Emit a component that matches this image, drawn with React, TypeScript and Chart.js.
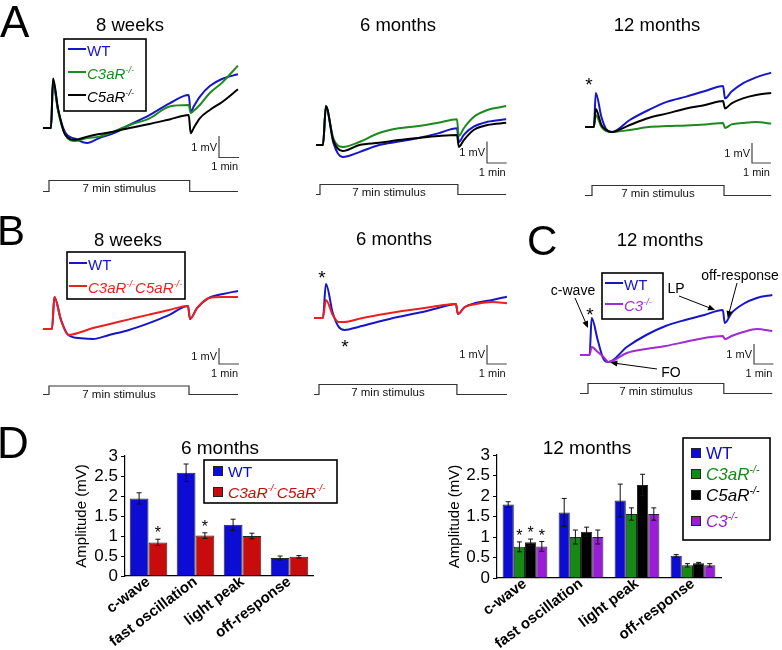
import React, { useEffect, useRef } from 'react';
import { Chart, registerables } from 'chart.js';

Chart.register(...registerables);

const FONT = '"Liberation Sans", Arial, Helvetica, sans-serif';
Chart.defaults.font.family = FONT;

const W = 782;
const H = 650;

// ---------------- DATA ----------------
const STIM_ON = 0; // min
const STIM_OFF = 7; // min

// Panel A – 8 weeks (mV vs min)
const tA8w = [-0.3, 0.1, 0.2, 0.45, 0.8, 1.3, 1.9, 2.5, 3.2, 4.0, 5.0, 6.0, 6.95, 7.05, 7.2, 7.5, 8.0, 8.6, 9.4];
const wtA8w = [0, 0, 2.1, 0.85, -0.2, -0.5, -0.7, -0.47, -0.25, 0.14, 0.6, 1.15, 1.53, 0.75, 1.0, 1.45, 1.95, 2.28, 2.5];
const c3arA8w = [0, 0, 2.25, 0.8, -0.3, -0.6, -0.47, -0.4, -0.17, 0.14, 0.45, 1.0, 1.07, 0.7, 0.8, 1.07, 1.63, 2.1, 2.9];
const c5arA8w = [0, 0, 2.3, 0.9, -0.3, -0.55, -0.4, -0.28, -0.17, 0.0, 0.19, 0.4, 0.6, -0.24, 0.0, 0.45, 0.84, 1.2, 1.8];

// Panel A – 6 months
const tA6m = [-0.2, 0.15, 0.3, 0.68, 1.15, 2.0, 3.0, 4.0, 5.0, 6.0, 6.95, 7.05, 7.3, 7.8, 8.5, 9.45];
const wtA6m = [0, 0, 1.81, 0.1, -0.56, -0.33, 0.0, 0.16, 0.33, 0.54, 0.78, 0.14, 0.47, 0.85, 1.08, 1.2];
const c3arA6m = [0, 0, 1.75, 0.3, -0.09, 0.14, 0.56, 0.78, 0.88, 1.03, 1.2, 0.42, 0.78, 1.3, 1.63, 1.81];
const c5arA6m = [0, 0, 1.8, 0.2, -0.28, 0.0, 0.1, 0.23, 0.33, 0.42, 0.47, -0.09, 0.23, 0.7, 0.93, 1.03];

// Panel A – 12 months
const tA12m = [-0.37, 0.1, 0.2, 0.5, 0.75, 1.05, 2.0, 3.0, 4.0, 5.0, 6.0, 6.95, 7.05, 7.4, 8.0, 8.7, 9.5];
const wtA12m = [0, 0, 1.7, 0.5, -0.1, -0.25, 0.35, 0.85, 1.27, 1.52, 1.8, 2.05, 1.43, 1.77, 2.18, 2.48, 2.72];
const c3arA12m = [0, 0, 0.6, 0.0, -0.2, -0.25, -0.15, 0.0, 0.05, 0.08, 0.13, 0.2, -0.05, 0.13, 0.2, 0.25, 0.17];
const c5arA12m = [0, 0, 0.9, 0.1, -0.15, -0.25, 0.1, 0.45, 0.68, 0.93, 1.1, 1.3, 0.93, 1.18, 1.43, 1.6, 1.7];
const starsA12m = [{ t: -0.16, v: 2.35 }];

// Panel B – 8 weeks
const tB8w = [-0.3, 0.15, 0.27, 0.6, 0.97, 1.6, 2.2, 3.0, 4.0, 5.0, 6.0, 6.95, 7.05, 7.4, 8.0, 8.7, 9.45];
const wtB8w = [0, 0, 2.0, 0.56, -0.375, -0.58, -0.63, -0.375, -0.06, 0.37, 0.87, 1.44, 0.62, 1.3, 1.94, 2.19, 2.38];
const dkoB8w = [0, 0, 2.0, 0.56, -0.375, -0.19, 0.06, 0.3, 0.6, 0.9, 1.19, 1.44, 0.62, 1.3, 1.94, 2.0, 2.0];

// Panel B – 6 months
const tB6m = [-0.25, 0.2, 0.35, 0.7, 1.0, 1.3, 2.0, 3.0, 4.0, 5.0, 6.0, 6.95, 7.05, 7.4, 8.0, 8.8, 9.54];
const wtB6m = [0, 0, 1.79, 0.26, -0.47, -0.63, -0.47, -0.2, 0.05, 0.26, 0.51, 0.74, 0.21, 0.58, 0.8, 0.95, 1.12];
const dkoB6m = [0, 0, 0.95, 0.16, -0.21, -0.21, -0.05, 0.16, 0.33, 0.47, 0.63, 0.74, 0.21, 0.58, 0.74, 0.84, 0.77];
const starsB6m = [{ t: 0.15, v: 2.37 }, { t: 1.32, v: -1.26 }];

// Panel C – 12 months
const tC12m = [-0.41, 0.08, 0.19, 0.5, 0.8, 1.05, 2.0, 3.0, 4.0, 5.0, 6.0, 6.95, 7.05, 7.4, 8.0, 8.7, 9.5];
const wtC12m = [0, 0, 1.85, 0.75, -0.2, -0.35, 0.4, 1.0, 1.45, 1.75, 2.0, 2.25, 1.6, 2.1, 2.55, 2.85, 3.0];
const c3C12m = [0, 0, 0.4, 0.15, -0.1, -0.35, 0.1, 0.3, 0.45, 0.65, 0.85, 0.95, 0.8, 0.95, 1.15, 1.3, 1.2];
const starsC12m = [{ t: 0.1, v: 2.25 }];
const notesC12m = [
  { text: 'c-wave', tip: { t: 0.0, v: 1.35 } },
  { text: 'LP', tip: { t: 6.55, v: 2.25 } },
  { text: 'off-response', tip: { t: 7.2, v: 1.85 } },
  { text: 'FO', tip: { t: 1.15, v: -0.38 } },
];

// Panel D – bar charts (Amplitude, mV)
const barCategories = ['c-wave', 'fast oscillation', 'light peak', 'off-response'];
const yTicksMax = 3;
const yTickStep = 0.5;

const wt6m = [1.94, 2.58, 1.28, 0.45];
const wt6mErr = [0.14, 0.22, 0.14, 0.05];
const wt6mSig = [false, false, false, false];
const dko6m = [0.84, 1.01, 1.0, 0.48];
const dko6mErr = [0.08, 0.07, 0.07, 0.03];
const dko6mSig = [true, true, false, false];

const wt12m = [1.79, 1.6, 1.89, 0.54];
const wt12mErr = [0.07, 0.34, 0.4, 0.03];
const wt12mSig = [false, false, false, false];
const c3ar12m = [0.76, 1.0, 1.56, 0.31];
const c3ar12mErr = [0.12, 0.17, 0.15, 0.04];
const c3ar12mSig = [true, false, false, false];
const c5ar12m = [0.87, 1.13, 2.27, 0.36];
const c5ar12mErr = [0.08, 0.11, 0.26, 0.02];
const c5ar12mSig = [true, false, false, false];
const c3ko12m = [0.77, 1.0, 1.56, 0.31];
const c3ko12mErr = [0.12, 0.17, 0.15, 0.04];
const c3ko12mSig = [true, false, false, false];

// ---------------- STYLE ----------------
const BLUE = '#1616c6';
const GREEN = '#1d8a1d';
const BLACK = '#000000';
const RED = '#ec1f1f';
const PURPLE = '#a02cd2';
const BAR_BLUE = '#0c0cd2';
const BAR_RED = '#c80c0c';
const BAR_GREEN = '#148a14';
const BAR_BLACK = '#000000';
const BAR_PURPLE = '#981ed6';

// ---------------- HELPERS ----------------
function fontStr(size: number, italic = false, bold = false) {
  return `${italic ? 'italic ' : ''}${bold ? 'bold ' : ''}${size}px ${FONT}`;
}
function drawText(ctx: CanvasRenderingContext2D, s: string, x: number, cy: number, size: number, color = '#000', align: CanvasTextAlign = 'center') {
  ctx.font = fontStr(size);
  ctx.fillStyle = color;
  ctx.textAlign = align;
  ctx.textBaseline = 'alphabetic';
  ctx.fillText(s, x, cy + size * 0.36);
}
function drawRuns(ctx: CanvasRenderingContext2D, label: string, x: number, cy: number, size: number, color: string, italic: boolean) {
  const base = cy + size * 0.36;
  let cx = x;
  ctx.textAlign = 'left';
  ctx.textBaseline = 'alphabetic';
  ctx.fillStyle = color;
  for (const part of label.split(/(-\/-)/)) {
    if (!part) continue;
    const sup = part === '-/-';
    const fs = sup ? size * 0.62 : size;
    ctx.font = fontStr(fs, italic);
    ctx.fillText(part, cx, sup ? base - size * 0.42 : base);
    cx += ctx.measureText(part).width;
  }
}
function drawStar(ctx: CanvasRenderingContext2D, x: number, cy: number, size: number) {
  ctx.font = fontStr(size);
  ctx.fillStyle = '#000';
  ctx.textAlign = 'center';
  ctx.textBaseline = 'alphabetic';
  ctx.fillText('*', x, cy + size * 0.58);
}
function drawLetter(ctx: CanvasRenderingContext2D, L: { s: string; x: number; y: number; size: number }) {
  ctx.font = fontStr(L.size);
  ctx.fillStyle = '#000';
  ctx.textAlign = 'left';
  ctx.textBaseline = 'alphabetic';
  ctx.fillText(L.s, L.x, L.y);
}
function drawArrow(ctx: CanvasRenderingContext2D, x1: number, y1: number, x2: number, y2: number) {
  const a = Math.atan2(y2 - y1, x2 - x1);
  const hl = 7, hw = 3;
  const c = Math.cos(a), s = Math.sin(a);
  ctx.strokeStyle = '#000';
  ctx.fillStyle = '#000';
  ctx.lineWidth = 1;
  ctx.beginPath();
  ctx.moveTo(x1, y1);
  ctx.lineTo(x2 - c * hl * 0.7, y2 - s * hl * 0.7);
  ctx.stroke();
  ctx.beginPath();
  ctx.moveTo(x2, y2);
  ctx.lineTo(x2 - hl * c + hw * s, y2 - hl * s - hw * c);
  ctx.lineTo(x2 - hl * c - hw * s, y2 - hl * s + hw * c);
  ctx.closePath();
  ctx.fill();
}

interface LegendCfg { x1: number; y1: number; x2: number; y2: number; rows: number[]; sampleX: number; sampleW: number; textX: number; size: number; kind: 'line' | 'square' }
function drawLegend(ctx: CanvasRenderingContext2D, L: LegendCfg, entries: { label: string; color: string }[]) {
  ctx.fillStyle = '#fff';
  ctx.fillRect(L.x1, L.y1, L.x2 - L.x1, L.y2 - L.y1);
  ctx.strokeStyle = '#000';
  ctx.lineWidth = 1.6;
  ctx.strokeRect(L.x1, L.y1, L.x2 - L.x1, L.y2 - L.y1);
  entries.forEach((e, i) => {
    const y = L.rows[i];
    if (L.kind === 'line') {
      ctx.strokeStyle = e.color;
      ctx.lineWidth = 2;
      ctx.beginPath();
      ctx.moveTo(L.sampleX, y - 2);
      ctx.lineTo(L.sampleX + L.sampleW, y - 2);
      ctx.stroke();
    } else {
      ctx.fillStyle = e.color;
      ctx.fillRect(L.sampleX, y - L.sampleW / 2, L.sampleW, L.sampleW);
      ctx.strokeStyle = '#222';
      ctx.lineWidth = 1;
      ctx.strokeRect(L.sampleX + 0.5, y - L.sampleW / 2 + 0.5, L.sampleW - 1, L.sampleW - 1);
    }
    drawRuns(ctx, e.label, L.textX, y, L.size, e.color, e.label !== 'WT');
  });
}

// ---------------- TRACE PANELS ----------------
interface Trace { label: string; t: number[]; v: number[]; color: string; z: number }
interface TraceCfg {
  traces: Trace[];
  px0: number; pxPerMin: number; py0: number; pxPerMV: number;
  title: string; titleX: number; titleY: number;
  stimHi: number; stimLo: number;
  barX: number; barY: number;
  letter?: { s: string; x: number; y: number; size: number };
  legend?: LegendCfg;
  stars?: { t: number; v: number }[];
  notes?: { text: string; tip: { t: number; v: number } }[];
  notePos?: { x: number; y: number; tail: [number, number] }[];
}

const TITLE_SIZE = 18.5;

const traceCfgs: TraceCfg[] = [
  {
    traces: [
      { label: 'WT', t: tA8w, v: wtA8w, color: BLUE, z: 3 },
      { label: 'C3aR-/-', t: tA8w, v: c3arA8w, color: GREEN, z: 2 },
      { label: 'C5aR-/-', t: tA8w, v: c5arA8w, color: BLACK, z: 1 },
    ],
    px0: 49, pxPerMin: 20.1, py0: 128, pxPerMV: 21.5,
    title: '8 weeks', titleX: 130, titleY: 24,
    stimHi: 180.5, stimLo: 191.5, barX: 219, barY: 157.5,
    letter: { s: 'A', x: 0, y: 37, size: 44 },
    legend: { x1: 64, y1: 39, x2: 146, y2: 111, rows: [51, 74, 97], sampleX: 68, sampleW: 18, textX: 87, size: 15, kind: 'line' },
  },
  {
    traces: [
      { label: 'WT', t: tA6m, v: wtA6m, color: BLUE, z: 3 },
      { label: 'C3aR-/-', t: tA6m, v: c3arA6m, color: GREEN, z: 2 },
      { label: 'C5aR-/-', t: tA6m, v: c5arA6m, color: BLACK, z: 1 },
    ],
    px0: 320, pxPerMin: 19.7, py0: 145, pxPerMV: 21.5,
    title: '6 months', titleX: 398, titleY: 24,
    stimHi: 184.5, stimLo: 194.5, barX: 487, barY: 163,
  },
  {
    traces: [
      { label: 'WT', t: tA12m, v: wtA12m, color: BLUE, z: 3 },
      { label: 'C3aR-/-', t: tA12m, v: c3arA12m, color: GREEN, z: 2 },
      { label: 'C5aR-/-', t: tA12m, v: c5arA12m, color: BLACK, z: 1 },
    ],
    px0: 592, pxPerMin: 18.86, py0: 127, pxPerMV: 20,
    title: '12 months', titleX: 657, titleY: 24,
    stimHi: 185.5, stimLo: 195.5, barX: 752, barY: 163,
    stars: starsA12m,
  },
  {
    traces: [
      { label: 'WT', t: tB8w, v: wtB8w, color: BLUE, z: 2 },
      { label: 'C3aR-/-C5aR-/-', t: tB8w, v: dkoB8w, color: RED, z: 1 },
    ],
    px0: 49, pxPerMin: 20, py0: 329, pxPerMV: 16,
    title: '8 weeks', titleX: 128, titleY: 239,
    stimHi: 386, stimLo: 394.5, barX: 219, barY: 364,
    letter: { s: 'B', x: -3, y: 245, size: 42 },
    legend: { x1: 67, y1: 252, x2: 185, y2: 299, rows: [265, 288], sampleX: 69, sampleW: 18, textX: 88, size: 15, kind: 'line' },
  },
  {
    traces: [
      { label: 'WT', t: tB6m, v: wtB6m, color: BLUE, z: 2 },
      { label: 'C3aR-/-C5aR-/-', t: tB6m, v: dkoB6m, color: RED, z: 1 },
    ],
    px0: 319, pxPerMin: 19.7, py0: 318, pxPerMV: 19,
    title: '6 months', titleX: 394, titleY: 238,
    stimHi: 384.5, stimLo: 394.5, barX: 487, barY: 364,
    stars: starsB6m,
  },
  {
    traces: [
      { label: 'WT', t: tC12m, v: wtC12m, color: BLUE, z: 2 },
      { label: 'C3-/-', t: tC12m, v: c3C12m, color: PURPLE, z: 1 },
    ],
    px0: 588, pxPerMin: 19.4, py0: 355, pxPerMV: 20,
    title: '12 months', titleX: 660, titleY: 239,
    stimHi: 383.5, stimLo: 393.5, barX: 754, barY: 364,
    letter: { s: 'C', x: 527, y: 255, size: 42 },
    legend: { x1: 602, y1: 273, x2: 663, y2: 319, rows: [285, 306], sampleX: 605, sampleW: 18, textX: 624, size: 15, kind: 'line' },
    stars: starsC12m,
    notes: notesC12m,
    notePos: [
      { x: 573, y: 290, tail: [575, 298] },
      { x: 676, y: 288, tail: [679, 296] },
      { x: 740, y: 275, tail: [737, 283] },
      { x: 671, y: 372, tail: [657, 369] },
    ],
  },
];

function traceDecor(cfg: TraceCfg) {
  return {
    id: 'traceDecor',
    afterDraw(chart: any) {
      const ctx: CanvasRenderingContext2D = chart.ctx;
      const xs = chart.scales.x;
      const ys = chart.scales.y;
      ctx.save();
      if (cfg.letter) drawLetter(ctx, cfg.letter);
      drawText(ctx, cfg.title, cfg.titleX, cfg.titleY, TITLE_SIZE);

      // stimulus trace
      const tt = cfg.traces[0].t;
      const xa = xs.getPixelForValue(tt[0]);
      const xb = xs.getPixelForValue(tt[tt.length - 1]);
      const xOn = xs.getPixelForValue(STIM_ON);
      const xOff = xs.getPixelForValue(STIM_OFF);
      ctx.strokeStyle = '#333';
      ctx.lineWidth = 1.2;
      ctx.beginPath();
      ctx.moveTo(xa, cfg.stimLo);
      ctx.lineTo(xOn, cfg.stimLo);
      ctx.lineTo(xOn, cfg.stimHi);
      ctx.lineTo(xOff, cfg.stimHi);
      ctx.lineTo(xOff, cfg.stimLo);
      ctx.lineTo(xb, cfg.stimLo);
      ctx.stroke();
      drawText(ctx, `${STIM_OFF - STIM_ON} min stimulus`, (xOn + xOff) / 2, cfg.stimHi + 7.5, 11.5, '#111');

      // scale bars (1 mV, 1 min)
      const mv = ys.getPixelForValue(0) - ys.getPixelForValue(1);
      const mn = xs.getPixelForValue(1) - xs.getPixelForValue(0);
      ctx.strokeStyle = '#444';
      ctx.lineWidth = 1.2;
      ctx.beginPath();
      ctx.moveTo(cfg.barX, cfg.barY - mv);
      ctx.lineTo(cfg.barX, cfg.barY);
      ctx.lineTo(cfg.barX + mn, cfg.barY);
      ctx.stroke();
      drawText(ctx, '1 mV', cfg.barX - 2, cfg.barY - mv / 2, 11, '#111', 'right');
      drawText(ctx, '1 min', cfg.barX + mn - 1, cfg.barY + 9, 11, '#111', 'right');

      if (cfg.legend) drawLegend(ctx, cfg.legend, cfg.traces.map((t) => ({ label: t.label, color: t.color })));

      (cfg.stars || []).forEach((s) => drawStar(ctx, xs.getPixelForValue(s.t), ys.getPixelForValue(s.v), 19));

      (cfg.notes || []).forEach((n, i) => {
        const p = cfg.notePos![i];
        drawText(ctx, n.text, p.x, p.y, 14);
        drawArrow(ctx, p.tail[0], p.tail[1], xs.getPixelForValue(n.tip.t), ys.getPixelForValue(n.tip.v));
      });
      ctx.restore();
    },
  };
}

function makeTraceChart(canvas: HTMLCanvasElement, cfg: TraceCfg) {
  return new Chart(canvas, {
    type: 'line',
    data: {
      datasets: cfg.traces.map((tr) => ({
        label: tr.label,
        data: tr.t.map((x, i) => ({ x, y: tr.v[i] })),
        borderColor: tr.color,
        backgroundColor: tr.color,
        borderWidth: 2,
        pointRadius: 0,
        fill: false,
        cubicInterpolationMode: 'monotone',
        order: tr.z,
      })),
    },
    options: {
      responsive: false,
      animation: false,
      devicePixelRatio: 1,
      events: [],
      layout: { padding: 0, autoPadding: false },
      plugins: { legend: { display: false }, tooltip: { enabled: false }, title: { display: false } },
      scales: {
        x: { type: 'linear', display: false, min: -cfg.px0 / cfg.pxPerMin, max: (W - cfg.px0) / cfg.pxPerMin },
        y: { type: 'linear', display: false, min: (cfg.py0 - H) / cfg.pxPerMV, max: cfg.py0 / cfg.pxPerMV },
      },
    } as any,
    plugins: [traceDecor(cfg)],
  });
}

// ---------------- BAR PANELS ----------------
interface BarSeries { label: string; v: number[]; e: number[]; sig: boolean[]; color: string }
interface BarCfg {
  series: BarSeries[];
  axisLeft: number; axisRight: number; yTop: number; yBottom: number; yAxisW: number; xAxisH: number;
  title: string; titleX: number; titleY: number;
  legend: LegendCfg;
  letter?: { s: string; x: number; y: number; size: number };
}

const barCfgs: BarCfg[] = [
  {
    series: [
      { label: 'WT', v: wt6m, e: wt6mErr, sig: wt6mSig, color: BAR_BLUE },
      { label: 'C3aR-/-C5aR-/-', v: dko6m, e: dko6mErr, sig: dko6mSig, color: BAR_RED },
    ],
    axisLeft: 125, axisRight: 313, yTop: 456, yBottom: 576, yAxisW: 56, xAxisH: 74,
    title: '6 months', titleX: 220, titleY: 447,
    legend: { x1: 204, y1: 460, x2: 337, y2: 503, rows: [471, 492], sampleX: 213, sampleW: 10, textX: 228, size: 15.5, kind: 'square' },
    letter: { s: 'D', x: -3, y: 458, size: 44 },
  },
  {
    series: [
      { label: 'WT', v: wt12m, e: wt12mErr, sig: wt12mSig, color: BAR_BLUE },
      { label: 'C3aR-/-', v: c3ar12m, e: c3ar12mErr, sig: c3ar12mSig, color: BAR_GREEN },
      { label: 'C5aR-/-', v: c5ar12m, e: c5ar12mErr, sig: c5ar12mSig, color: BAR_BLACK },
      { label: 'C3-/-', v: c3ko12m, e: c3ko12mErr, sig: c3ko12mSig, color: BAR_PURPLE },
    ],
    axisLeft: 497, axisRight: 721, yTop: 455, yBottom: 578, yAxisW: 55, xAxisH: 72,
    title: '12 months', titleX: 587, titleY: 447,
    legend: { x1: 683, y1: 438, x2: 770, y2: 540, rows: [453, 474, 495, 521], sampleX: 691, sampleW: 10, textX: 706, size: 17, kind: 'square' },
  },
];

function barDecor(cfg: BarCfg) {
  return {
    id: 'barDecor',
    afterDatasetsDraw(chart: any) {
      const ctx: CanvasRenderingContext2D = chart.ctx;
      const ys = chart.scales.y;
      ctx.save();
      cfg.series.forEach((s, di) => {
        const meta = chart.getDatasetMeta(di);
        meta.data.forEach((el: any, i: number) => {
          const x = el.x;
          const yT = ys.getPixelForValue(s.v[i] + s.e[i]);
          const yB = ys.getPixelForValue(s.v[i] - s.e[i]);
          ctx.strokeStyle = '#111';
          ctx.lineWidth = 1;
          ctx.beginPath();
          ctx.moveTo(x, yB);
          ctx.lineTo(x, yT);
          ctx.moveTo(x - 2.5, yT);
          ctx.lineTo(x + 2.5, yT);
          ctx.moveTo(x - 2.5, yB);
          ctx.lineTo(x + 2.5, yB);
          ctx.stroke();
          if (s.sig[i]) drawStar(ctx, x, yT - 10, 16);
        });
      });
      ctx.restore();
    },
    afterDraw(chart: any) {
      const ctx: CanvasRenderingContext2D = chart.ctx;
      ctx.save();
      if (cfg.letter) drawLetter(ctx, cfg.letter);
      drawText(ctx, cfg.title, cfg.titleX, cfg.titleY, 19);
      drawLegend(ctx, cfg.legend, cfg.series.map((s) => ({ label: s.label, color: s.color })));
      ctx.restore();
    },
  };
}

function makeBarChart(canvas: HTMLCanvasElement, cfg: BarCfg) {
  return new Chart(canvas, {
    type: 'bar',
    data: {
      labels: barCategories,
      datasets: cfg.series.map((s) => ({
        label: s.label,
        data: s.v,
        backgroundColor: s.color,
        borderColor: '#262626',
        borderWidth: 1,
        categoryPercentage: 0.8,
        barPercentage: 1,
      })),
    },
    options: {
      responsive: false,
      animation: false,
      devicePixelRatio: 1,
      events: [],
      layout: {
        autoPadding: false,
        padding: { left: cfg.axisLeft - cfg.yAxisW, right: W - cfg.axisRight, top: cfg.yTop, bottom: H - cfg.yBottom - cfg.xAxisH },
      },
      plugins: { legend: { display: false }, tooltip: { enabled: false }, title: { display: false } },
      scales: {
        x: {
          grid: { display: false, drawTicks: false },
          border: { display: true, color: '#000', width: 1.2 },
          ticks: { color: '#000', font: { size: 15, weight: 'bold', family: FONT }, minRotation: 37, maxRotation: 37, autoSkip: false, padding: -3 },
          afterFit: (s: any) => { s.height = cfg.xAxisH; },
        },
        y: {
          min: 0,
          max: yTicksMax,
          ticks: {
            stepSize: yTickStep,
            autoSkip: false,
            color: '#000',
            font: { size: 17, family: FONT },
            padding: 3,
            callback: (v: any) => String(Number(v)),
          },
          grid: { drawOnChartArea: false, drawTicks: true, tickLength: 4, color: '#000' },
          border: { display: true, color: '#000', width: 1.2 },
          title: { display: true, text: 'Amplitude (mV)', color: '#000', font: { size: 15, family: FONT }, padding: { top: 4, bottom: 0 } },
          afterFit: (s: any) => { s.width = cfg.yAxisW; },
        },
      },
    } as any,
    plugins: [barDecor(cfg)],
  });
}

// ---------------- REACT ----------------
function ChartLayer({ build }: { build: (c: HTMLCanvasElement) => Chart }) {
  const ref = useRef<HTMLCanvasElement>(null);
  useEffect(() => {
    const chart = build(ref.current!);
    return () => chart.destroy();
  }, []);
  return <canvas ref={ref} width={W} height={H} style={{ position: 'absolute', left: 0, top: 0, width: W, height: H }} />;
}

export default function App() {
  return (
    <div style={{ position: 'absolute', left: 0, top: 0, width: W, height: H, background: '#fff', overflow: 'hidden' }}>
      {traceCfgs.map((c, i) => (
        <ChartLayer key={'t' + i} build={(cv) => makeTraceChart(cv, c)} />
      ))}
      {barCfgs.map((c, i) => (
        <ChartLayer key={'b' + i} build={(cv) => makeBarChart(cv, c)} />
      ))}
    </div>
  );
}
